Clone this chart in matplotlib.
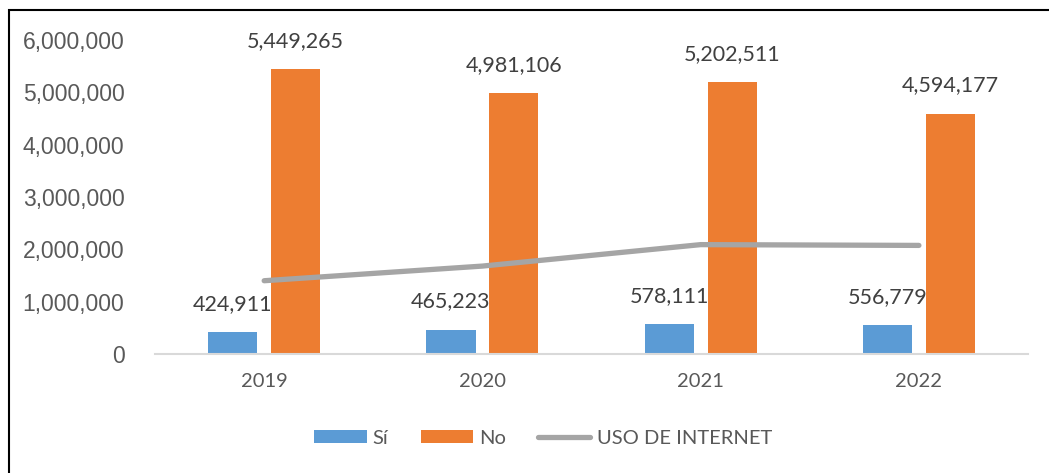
import matplotlib.pyplot as plt
import matplotlib.patches as patches
import numpy as np

years = ["2019", "2020", "2021", "2022"]
si_vals = [424911, 465223, 578111, 556779]
no_vals = [5449265, 4981106, 5202511, 4594177]
uso_vals = [1400000, 1680000, 2090000, 2075000]

blue = '#5B9BD5'
orange = '#ED7D31'
gray = '#A5A5A5'
txt = '#595959'

fig = plt.figure(figsize=(10.49, 4.73), dpi=100, facecolor='white')
ax = fig.add_axes([0.1478, 0.2516, 0.8322, 0.6638])

x = np.arange(len(years))
w = 0.225
off = 0.144
b1 = ax.bar(x - off, si_vals, w, color=blue, label='Sí', zorder=2)
b2 = ax.bar(x + off, no_vals, w, color=orange, label='No', zorder=2)
ln, = ax.plot(x, uso_vals, color=gray, lw=3.8, solid_capstyle='round',
              label='USO DE INTERNET', zorder=3)

lab_font = dict(family=['Lato', 'DejaVu Sans'], fontsize=15.5, color='#404040')
for bars, vals in ((b1, si_vals), (b2, no_vals)):
    for r, v in zip(bars, vals):
        ax.annotate(f"{v:,}", (r.get_x() + r.get_width() / 2, v),
                    xytext=(0, 13), textcoords='offset points',
                    ha='center', va='bottom', zorder=4, **lab_font)

ax.set_xlim(-0.5, len(years) - 0.5)
ax.set_ylim(0, 6000000)
ax.set_yticks(range(0, 6000001, 1000000))
ax.yaxis.set_major_formatter(plt.FuncFormatter(lambda v, p: f"{int(v):,}"))
ax.set_xticks(x)
ax.set_xticklabels(years)

for s in ('top', 'right', 'left'):
    ax.spines[s].set_visible(False)
ax.spines['bottom'].set_color('#D9D9D9')
ax.spines['bottom'].set_linewidth(1.5)
ax.tick_params(axis='y', length=0, pad=22, labelsize=16.5, labelcolor=txt)
ax.tick_params(axis='x', length=0, pad=14, labelsize=14.5, labelcolor=txt)
for t in ax.get_yticklabels():
    t.set_family('Liberation Sans')
for t in ax.get_xticklabels():
    t.set_family('Lato')

leg = fig.legend(handles=[b1, b2, ln], loc='center', bbox_to_anchor=(543 / 1049, 1 - 438 / 473),
                 ncol=3, frameon=False, prop={'family': 'Lato', 'size': 14.5},
                 handlelength=2.6, handleheight=0.65, columnspacing=1.6, handletextpad=0.3)
for t in leg.get_texts():
    t.set_color(txt)

# outer border (left and top visible)
fig.add_artist(patches.Rectangle((9 / 1049, -0.05), 1.2, 1 - 10 / 473 + 0.05,
                                 transform=fig.transFigure, fill=False,
                                 edgecolor='black', linewidth=1.5))

fig.savefig('out.png', dpi=100, facecolor='white')
